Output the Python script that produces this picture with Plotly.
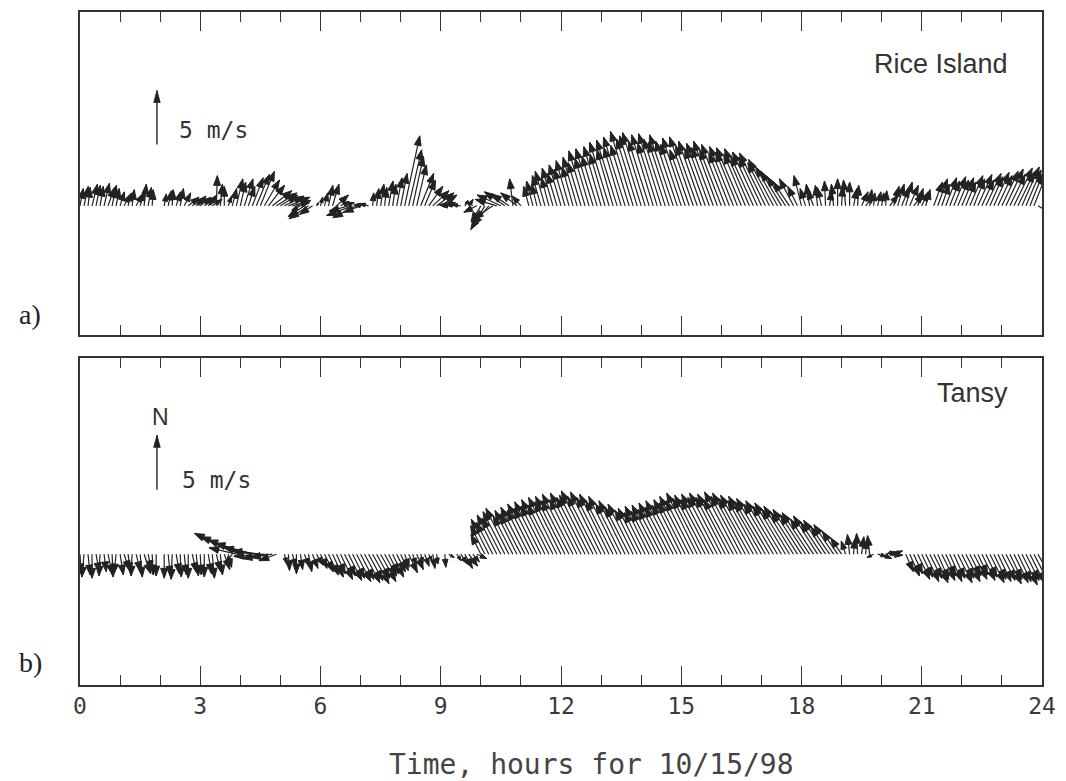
import plotly.graph_objects as go
from plotly.subplots import make_subplots

# Hourly blocks of 6-minute wind vectors (m/s); None marks missing samples
HOURS = [0.1 * i for i in range(240)]

RICE_U = [
    0.3, 0.4, 0.2, 0.5, 0.4, 0.3, 0.5, 0.6, 0.4, 0.3,
    0.4, 0.5, 0.3, 0.2, 0.6, 0.4, 0.2, 0.3, 0.1, None,
    None, 0.2, 0.3, 0.1, 0.4, 0.3, 0.6, 1.0, 1.2, 0.9,
    1.0, 1.1, 0.8, 0.9, 0.1, 0.2, 0.0, 0.3, 0.4, 0.6,
    0.5, 0.8, 0.6, 1.0, 1.2, 1.3, 1.4, 1.5, 1.8, 1.9,
    1.6, 1.8, 2.0, 1.7, 1.2, -0.8, -1.5, -1.8, -1.2, 0.2,
    0.2, 0.3, 0.4, 0.6, 1.1, 0.8, 0.9, -1.8, -2.4, -2.2,
    -1.6, -1.0, -0.8, 0.1, 0.2, 0.3, 0.2, 0.4, 0.3, 0.5,
    0.6, 1.4, 1.2, 1.0, 0.9, 1.2, 1.0, 1.3, 1.5, 1.6,
    1.5, 1.0, -0.9, -1.2, -1.0, -0.8, 0.3, 0.4, -0.6, -1.2,
    -0.9, -1.3, -1.5, -1.8, -2.0, -2.2, -1.9, -1.6, -0.3, -1.5,
    -0.8, None, -0.5, -0.6, -0.5, -0.8, -0.9, -0.7, -1.0, -0.9,
    -1.1, -1.0, -1.2, -1.0, -1.3, -1.2, -1.5, -1.3, -1.6, -1.4,
    -1.6, -1.4, -1.8, -1.5, -1.9, -1.6, -2.0, -1.7, -2.1, -1.9,
    -2.0, -2.1, -1.9, -2.0, -1.8, -2.1, -2.0, -1.9, -2.2, -2.0,
    -1.9, -2.1, -1.8, -2.2, -2.0, -2.1, -1.9, -2.1, -2.0, -2.2,
    -2.0, -2.2, -1.9, -2.2, -2.0, -2.3, -2.0, -2.3, -2.1, -2.3,
    -2.1, -2.4, -2.0, -2.3, -2.0, -1.9, -1.7, -1.5, -1.3, -0.9,
    -0.7, -0.5, -0.3, -0.6, -0.2, -0.4, -0.1, 0.2, -0.2, 0.0,
    0.1, -0.2, 0.0, 0.3, 0.1, 0.6, 0.8, 0.2, 0.1, 0.3,
    0.2, 0.1, 0.8, 0.5, 0.6, 0.7, 0.6, 0.8, 0.9, 0.5,
    0.6, 0.4, None, 0.8, 0.9, 0.7, 1.0, 0.9, 1.1, 1.0,
    1.1, 0.9, 1.2, 1.0, 1.3, 1.1, 1.4, 1.2, 1.4, 1.3,
    1.5, 1.6, 1.4, 1.7, 1.5, 1.6, 1.4, 1.2, 1.1, 1.6,
]
RICE_V = [
    1.6, 1.8, 1.7, 2.0, 1.9, 1.8, 2.1, 1.7, 1.9, 1.6,
    1.3, 1.0, 1.2, 1.5, 1.1, 1.3, 2.0, 1.7, 1.5, None,
    None, 1.1, 1.4, 1.5, 1.3, 1.6, 1.2, 0.8, 0.7, 0.9,
    0.8, 0.7, 1.0, 0.6, 2.8, 2.0, 1.8, 0.9, 1.6, 2.5,
    2.2, 2.5, 1.8, 2.6, 2.9, 3.2, 2.4, 1.9, 1.4, 1.2,
    1.0, 0.9, 0.8, 0.5, 0.3, -0.4, -1.0, -1.2, -0.8, 0.3,
    0.8, 1.2, 1.9, 2.0, 1.0, 0.4, 0.3, -0.5, -0.9, -1.1,
    -0.6, 0.1, 0.2, 1.2, 1.6, 2.0, 1.7, 2.3, 2.0, 2.6,
    3.0, 6.5, 5.2, 4.6, 3.8, 3.0, 2.4, 1.8, 1.4, 1.2,
    1.0, 0.3, 0.1, 0.1, 0.2, 0.1, 0.5, 0.6, 0.4, -0.6,
    -1.5, -2.2, -1.8, -1.2, 0.6, 1.0, 1.3, 1.1, 2.5, 1.2,
    0.9, None, 1.8, 2.3, 2.0, 2.8, 3.2, 2.6, 3.5, 3.0,
    3.8, 3.4, 4.2, 3.6, 4.5, 4.0, 5.1, 4.4, 5.3, 4.6,
    5.5, 4.8, 5.9, 5.2, 6.1, 5.4, 6.4, 5.6, 6.9, 6.2,
    6.5, 6.8, 6.0, 6.6, 5.8, 6.7, 6.2, 5.9, 6.6, 6.0,
    5.7, 6.3, 5.2, 6.4, 5.6, 6.0, 5.3, 5.8, 5.4, 6.0,
    5.2, 5.7, 4.9, 5.5, 5.0, 5.4, 4.8, 5.3, 4.6, 5.0,
    4.5, 4.9, 4.0, 4.3, 3.6, 3.2, 2.7, 2.2, 2.5, 1.8,
    2.8, 1.6, 2.0, 1.5, 1.9, 1.7, 2.3, 1.4, 2.0, 2.5,
    1.8, 2.4, 2.2, 1.6, 1.9, 1.3, 1.0, 1.5, 1.2, 1.3,
    1.2, 1.4, 1.0, 1.8, 2.0, 1.7, 2.2, 1.9, 1.1, 1.6,
    1.3, 1.5, None, 2.2, 2.5, 2.0, 2.6, 2.3, 2.7, 2.4,
    2.6, 2.2, 2.8, 2.5, 2.9, 2.4, 3.0, 2.7, 3.1, 2.8,
    3.2, 3.4, 2.9, 3.5, 3.1, 3.6, 3.3, 3.0, 2.8, -0.9,
]

TANSY_U = [
    0.1, -0.2, 0.2, 0.0, 0.3, -0.1, 0.2, 0.4, 0.1, -0.2,
    0.3, 0.5, 0.2, -0.1, 0.4, 0.2, 0.6, 0.3, 0.1, 0.0,
    None, 0.0, 0.2, -0.1, 0.3, 0.1, 0.2, 0.0, 0.4, 0.2,
    0.1, 0.0, 0.3, 0.2, 0.4, 0.2, 0.5, 0.3, -0.6, -2.5,
    -4.2, -4.0, -3.7, -3.4, -3.0, -2.6, -2.8, -2.4, -2.0, -1.6,
    None, 0.2, 0.1, 0.3, 0.0, 0.2, 0.4, 0.3, 0.5, 0.6,
    0.6, 0.8, 0.9, 1.0, 0.8, 1.1, 1.0, 1.2, 1.1, 1.3,
    1.2, 1.4, 1.3, 1.5, 1.2, 1.4, 1.1, 0.9, 1.0, 0.8,
    0.7, 0.4, 0.8, 0.3, 0.6, 0.2, 0.4, 0.3, 0.2, 0.1,
    None, 0.1, 0.5, None, 0.4, 0.6, 0.7, 0.8, 0.6, 0.9,
    -0.9, -1.3, -1.6, -1.5, -1.8, -1.7, -2.0, -2.1, -1.8, -2.0,
    -1.9, -2.2, -2.0, -2.3, -2.1, -2.4, -2.2, -2.5, -2.3, -2.6,
    -2.4, -2.7, -2.5, -2.8, -2.5, -2.8, -2.6, -2.7, -2.9, -2.7,
    -2.8, -2.6, -2.7, -2.5, -2.6, -2.3, -2.4, -2.2, -2.3, -2.0,
    -2.1, -1.9, -2.2, -2.0, -2.3, -2.1, -2.4, -2.2, -2.5, -2.3,
    -2.5, -2.4, -2.7, -2.5, -2.8, -2.6, -2.8, -2.6, -2.9, -2.7,
    -2.9, -2.7, -2.9, -2.7, -3.0, -2.8, -3.0, -2.8, -3.0, -2.7,
    -3.0, -2.8, -3.0, -2.7, -2.9, -2.6, -2.8, -2.5, -2.7, -2.4,
    -2.6, -2.3, -2.5, -2.1, -2.2, -1.9, -2.0, -1.7, -1.8, -1.4,
    -1.0, -0.4, -0.2, 0.1, -0.1, 0.2, 0.1, -0.2, -0.6, 0.8,
    0.9, 1.0, 1.2, 0.8, -0.9, None, 0.7, 0.9, 0.8, 1.1,
    1.0, 1.2, 1.1, 1.3, 1.0, 1.2, 0.9, 1.1, 1.0, 1.3,
    1.1, 1.3, 1.0, 1.2, 0.9, 1.2, 1.0, 1.3, 1.1, 1.2,
    1.2, 1.4, 1.1, 1.3, 1.2, 1.4, 1.2, 1.3, 1.5, 1.4,
]
TANSY_V = [
    -1.8, -2.1, -1.9, -2.2, -1.7, -2.0, -1.6, -1.9, -2.1, -1.8,
    -1.9, -1.5, -1.7, -2.0, -1.6, -2.1, -1.8, -1.5, -1.9, -2.0,
    None, -2.2, -2.0, -2.3, -1.8, -2.1, -1.9, -2.2, -1.7, -2.0,
    -1.9, -2.1, -1.8, -2.2, -1.6, -1.9, -1.4, -1.2, -0.8, 0.6,
    1.9, 1.6, 1.3, 1.0, 0.6, 0.3, -0.2, -0.4, -0.3, -0.6,
    None, -0.9, -1.5, -1.2, -1.8, -1.4, -1.1, -1.6, -1.3, -1.0,
    -1.3, -1.6, -1.9, -2.1, -1.8, -2.3, -2.0, -2.4, -2.2, -2.5,
    -2.3, -2.6, -2.4, -2.7, -2.2, -2.5, -2.0, -1.8, -2.1, -1.6,
    -1.5, -1.2, -1.7, -1.0, -1.4, -0.8, -1.1, -0.6, -1.3, -0.9,
    None, -1.2, -0.3, None, -0.6, -0.9, -1.3, -1.1, -0.7, -0.4,
    1.8, 2.6, 3.2, 2.9, 3.6, 3.3, 3.9, 4.2, 3.5, 4.0,
    3.7, 4.3, 4.0, 4.6, 4.2, 4.8, 4.4, 5.0, 4.5, 5.2,
    4.8, 5.3, 4.9, 5.5, 5.0, 5.6, 5.2, 5.4, 5.8, 5.3,
    5.7, 5.2, 5.5, 4.9, 5.3, 4.6, 4.9, 4.3, 4.6, 4.0,
    4.2, 3.8, 4.4, 3.9, 4.5, 4.1, 4.7, 4.3, 4.9, 4.5,
    5.0, 4.7, 5.3, 4.9, 5.6, 5.1, 5.4, 5.0, 5.5, 5.2,
    5.6, 5.2, 5.5, 5.0, 5.7, 5.3, 5.6, 5.1, 5.4, 4.9,
    5.3, 4.8, 5.1, 4.6, 4.9, 4.4, 4.7, 4.1, 4.4, 3.8,
    4.1, 3.6, 3.8, 3.2, 3.5, 2.9, 3.1, 2.5, 2.7, 2.1,
    1.5, 1.2, 1.8, 1.4, 1.9, 1.6, 1.3, 1.7, -0.3, -0.2,
    -0.4, 0.2, -0.1, 0.3, 0.1, None, -1.6, -2.0, -1.8, -2.3,
    -2.1, -2.5, -2.2, -2.6, -2.3, -2.4, -2.0, -2.5, -2.2, -2.6,
    -2.2, -2.5, -2.0, -2.3, -1.9, -2.4, -2.1, -2.6, -2.3, -2.5,
    -2.4, -2.7, -2.3, -2.6, -2.5, -2.8, -2.4, -2.6, -2.9, -2.5,
]

X_TICKS = [0, 3, 6, 9, 12, 15, 18, 21, 24]
X_MINOR = [h for h in range(25) if h % 3]
SCALE_SPEED = 5  # m/s, length of the key arrow

# ---- geometry (pixels) ----
W, H = 1066, 781
L_PX, R_PX = 80, 1043
TOP_A, BOT_A = 10, 334
TOP_B, BOT_B = 357, 685
Y_RANGE = [-12, 18]
X_RANGE = [0, 24]
plot_h = BOT_B - TOP_A
px_per_hour = (R_PX - L_PX) / (X_RANGE[1] - X_RANGE[0])

INK = "#222222"


def stick_paths(times, us, vs, k, y0=0.0, head_len=0.9, head_half=0.32):
    """Return (line_x, line_y, head_x, head_y) for a stick plot.
    Vector components are in m/s; k converts m/s to hours on the x axis."""
    lx, ly, hx, hy = [], [], [], []
    for t, u, v in zip(times, us, vs):
        if u is None or v is None:
            continue
        mag = (u * u + v * v) ** 0.5
        if mag == 0:
            continue
        ex, ey = u / mag, v / mag
        tip_u, tip_v = u, y0 + v
        lx += [t, t + tip_u * k, None]
        ly += [y0, tip_v, None]
        hl = min(head_len, 0.6 * mag)
        hw = head_half * hl / head_len
        bu, bv = tip_u - ex * hl, tip_v - ey * hl
        p1 = (bu - ey * hw, bv + ex * hw)
        p2 = (bu + ey * hw, bv - ex * hw)
        hx += [t + tip_u * k, t + p1[0] * k, t + p2[0] * k, t + tip_u * k, None]
        hy += [tip_v, p1[1], p2[1], tip_v, None]
    return lx, ly, hx, hy


fig = make_subplots(rows=2, cols=1, shared_xaxes=False, vertical_spacing=0.0)

domains = {
    1: [(BOT_B - BOT_A) / plot_h, 1.0],
    2: [0.0, (BOT_B - TOP_B) / plot_h],
}
panel_px = {1: BOT_A - TOP_A, 2: BOT_B - TOP_B}

series = {1: (RICE_U, RICE_V), 2: (TANSY_U, TANSY_V)}
KEY_T = 1.92
KEY_BASE = {1: 5.7, 2: 5.9}

for row in (1, 2):
    px_per_ms = panel_px[row] / (Y_RANGE[1] - Y_RANGE[0])
    k = px_per_ms / px_per_hour
    us, vs = series[row]
    lx, ly, hx, hy = stick_paths(HOURS, us, vs, k)
    fig.add_trace(go.Scatter(x=lx, y=ly, mode="lines", line=dict(color=INK, width=1.2),
                             hoverinfo="skip", showlegend=False), row=row, col=1)
    fig.add_trace(go.Scatter(x=hx, y=hy, mode="lines", fill="toself", fillcolor=INK,
                             line=dict(color=INK, width=1),
                             hoverinfo="skip", showlegend=False), row=row, col=1)
    # key arrow
    kx, ky, khx, khy = stick_paths([KEY_T], [0.0], [SCALE_SPEED], k, y0=KEY_BASE[row],
                                   head_len=1.1, head_half=0.3)
    fig.add_trace(go.Scatter(x=kx, y=ky, mode="lines", line=dict(color=INK, width=1.4),
                             hoverinfo="skip", showlegend=False), row=row, col=1)
    fig.add_trace(go.Scatter(x=khx, y=khy, mode="lines", fill="toself", fillcolor=INK,
                             line=dict(color=INK, width=0.8),
                             hoverinfo="skip", showlegend=False), row=row, col=1)

mono = "DejaVu Sans Mono, Liberation Mono, monospace"
tick_font = dict(family=mono, size=23, color="#3a3a3a")
for row in (1, 2):
    fig.update_xaxes(range=X_RANGE, tickmode="array", tickvals=X_TICKS,
                     ticktext=[str(v) for v in X_TICKS],
                     ticks="inside", ticklen=19,
                     tickwidth=1.4, tickcolor="#333", showline=True, linecolor="#333",
                     linewidth=1.6, mirror="ticks", showgrid=False, zeroline=False,
                     showticklabels=(row == 2), tickfont=tick_font,
                     minor=dict(tickmode="array", tickvals=X_MINOR, ticks="inside",
                                ticklen=10, tickwidth=1.2, tickcolor="#333",
                                showgrid=False),
                     row=row, col=1)
    fig.update_yaxes(range=Y_RANGE, showticklabels=False, ticks="", showline=True,
                     linecolor="#333", linewidth=1.6, mirror=True, showgrid=False,
                     zeroline=False, domain=domains[row], row=row, col=1)

stroke_font = dict(family=mono, size=23, color="#333")
sans = dict(family="Liberation Sans, Arial", size=27, color="#333")
serif = dict(family="Liberation Serif, Times New Roman", size=28, color="#222")

ann = []
ann.append(dict(x=23.2, y=13.2, xref="x", yref="y", text="Rice Island", showarrow=False,
                xanchor="right", yanchor="middle", font=sans))
ann.append(dict(x=23.2, y=14.8, xref="x2", yref="y2", text="Tansy", showarrow=False,
                xanchor="right", yanchor="middle", font=sans))
ann.append(dict(x=2.42, y=7.0, xref="x", yref="y", text="5 m/s", showarrow=False,
                xanchor="left", yanchor="middle", font=stroke_font))
ann.append(dict(x=2.5, y=6.8, xref="x2", yref="y2", text="5 m/s", showarrow=False,
                xanchor="left", yanchor="middle", font=stroke_font))
ann.append(dict(x=2.0, y=12.6, xref="x2", yref="y2", text="N", showarrow=False,
                xanchor="center", yanchor="middle", font=dict(sans, size=23)))
ann.append(dict(x=(30 - L_PX) / (R_PX - L_PX), y=(BOT_B - 313) / plot_h, xref="paper",
                yref="paper", text="a)", showarrow=False, xanchor="center",
                yanchor="middle", font=serif))
ann.append(dict(x=(30 - L_PX) / (R_PX - L_PX), y=(BOT_B - 662) / plot_h, xref="paper",
                yref="paper", text="b)", showarrow=False, xanchor="center",
                yanchor="middle", font=serif))
ann.append(dict(x=(592 - L_PX) / (R_PX - L_PX), y=(BOT_B - 765) / plot_h, xref="paper",
                yref="paper", text="Time, hours for 10/15/98", showarrow=False,
                xanchor="center", yanchor="middle",
                font=dict(family=mono, size=28, color="#444")))

fig.update_layout(
    width=W, height=H,
    margin=dict(l=L_PX, r=W - R_PX, t=TOP_A, b=H - BOT_B, pad=0),
    paper_bgcolor="white", plot_bgcolor="white",
    annotations=ann, showlegend=False,
)

fig.write_html("out.html")
